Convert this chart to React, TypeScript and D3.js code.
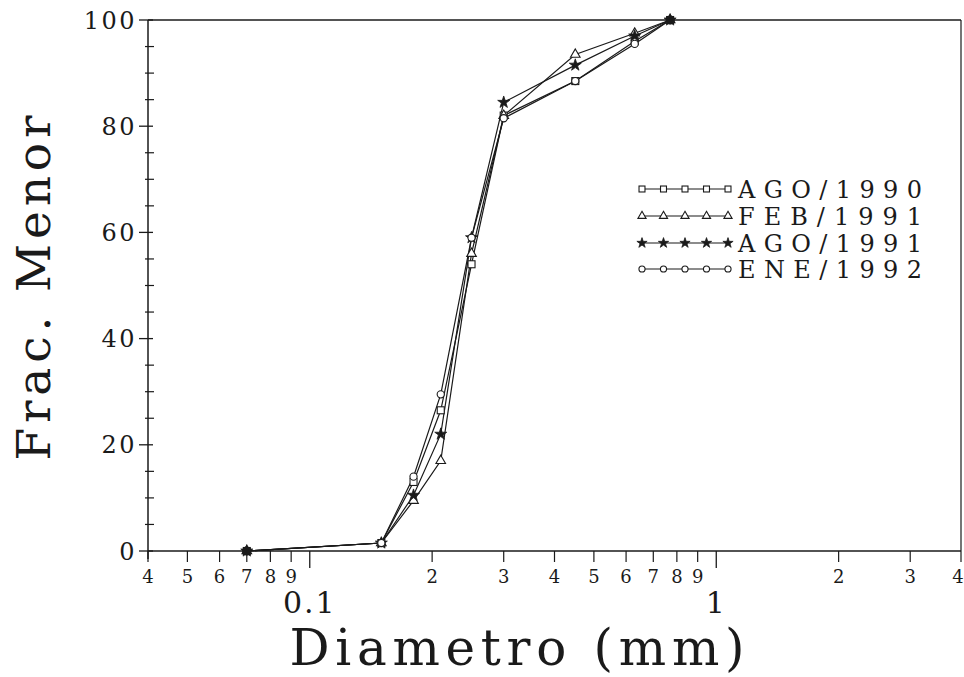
import React from "react";
import * as d3 from "d3";

const diameters = [0.07, 0.15, 0.18, 0.21, 0.25, 0.3, 0.45, 0.63, 0.77];
const ago1990 = [0, 1.5, 13, 26.5, 54, 82, 88.5, 96, 100];
const feb1991 = [0, 1.5, 9.5, 17, 56, 82, 93.5, 97.5, 100];
const ago1991 = [0, 1.5, 10.5, 22, 59, 84.5, 91.5, 97, 100];
const ene1992 = [0, 1.5, 14, 29.5, 59, 81.5, 88.5, 95.5, 100];
const seriesNames = ["AGO/1990", "FEB/1991", "AGO/1991", "ENE/1992"];
const seriesShapes = ["square", "triangle", "star", "circle"];
const yTicks = [0, 20, 40, 60, 80, 100];
const xMinorTicks = [0.04, 0.05, 0.06, 0.07, 0.08, 0.09, 0.2, 0.3, 0.4, 0.5, 0.6, 0.7, 0.8, 0.9, 2, 3, 4];
const xMinorLabels = ["4", "5", "6", "7", "8", "9", "2", "3", "4", "5", "6", "7", "8", "9", "2", "3", "4"];
const xMajorTicks = [0.1, 1];
const xMajorLabels = ["0.1", "1"];

const W = 964, H = 677;
const L = 148, R = 961, T = 20, B = 551;
const FONT = "'DejaVu Serif', 'Liberation Serif', serif";
const INK = "#1a1a1a";

function Marker({ shape, x, y, s = 1 }: { shape: string; x: number; y: number; s?: number }) {
  if (shape === "square") {
    return <rect x={x - 3.5 * s} y={y - 3.5 * s} width={7 * s} height={7 * s} fill="#fff" stroke={INK} strokeWidth={1.1} />;
  }
  if (shape === "circle") {
    return <circle cx={x} cy={y} r={3.6 * s} fill="#fff" stroke={INK} strokeWidth={1.1} />;
  }
  if (shape === "triangle") {
    const p = d3.symbol().type(d3.symbolTriangle).size(40 * s * s)();
    return <path d={p || ""} transform={`translate(${x},${y})`} fill="#fff" stroke={INK} strokeWidth={1.1} />;
  }
  const p = d3.symbol().type(d3.symbolStar).size(45 * s * s)();
  return <path d={p || ""} transform={`translate(${x},${y})`} fill={INK} stroke={INK} strokeWidth={0.8} />;
}

export default function App() {
  const x = d3.scaleLog().domain([0.04, 4]).range([L, R]);
  const y = d3.scaleLinear().domain([0, 100]).range([B, T]);
  const allSeries = [ago1990, feb1991, ago1991, ene1992];
  const line = d3
    .line<number>()
    .x((_, i) => x(diameters[i]))
    .y((v) => y(v));

  const yMinor = d3.range(0, 101, 5).filter((v) => v % 20 !== 0);
  const legendY = [189, 216, 243, 269];
  const legendX = [642, 663.5, 685, 706.5, 728];

  return (
    <svg width={W} height={H} style={{ position: "absolute", left: 0, top: 0, background: "#fff" }}>
      <rect x={0} y={0} width={W} height={H} fill="#fff" />
      {/* frame */}
      <line x1={L} y1={T} x2={R} y2={T} stroke={INK} strokeWidth={1.4} />
      <line x1={R} y1={T} x2={R} y2={B} stroke={INK} strokeWidth={1.2} />
      <line x1={L} y1={B} x2={R} y2={B} stroke={INK} strokeWidth={1.5} />
      <line x1={L} y1={T} x2={L} y2={B + 8} stroke={INK} strokeWidth={1.5} />

      {/* y ticks */}
      {yTicks.map((t) => (
        <g key={`yt${t}`}>
          <line x1={L - 9} x2={L + 5} y1={y(t)} y2={y(t)} stroke={INK} strokeWidth={1.3} />
          <text x={137} y={y(t) + 8.5} textAnchor="end" fontFamily={FONT} fontSize={24} letterSpacing={2.5} fill={INK}>
            {t}
          </text>
        </g>
      ))}
      {yMinor.map((t) => (
        <line key={`ym${t}`} x1={L - 3} x2={L + 6} y1={y(t)} y2={y(t)} stroke={INK} strokeWidth={1.2} />
      ))}

      {/* x ticks */}
      {xMinorTicks.map((t, i) => (
        <g key={`xm${i}`}>
          <line x1={x(t)} x2={x(t)} y1={B} y2={B + 11} stroke={INK} strokeWidth={1.2} />
          <text
            x={i === xMinorTicks.length - 1 ? x(t) - 3 : x(t)}
            y={583}
            textAnchor="middle"
            fontFamily={FONT}
            fontSize={18}
            fill={INK}
          >
            {xMinorLabels[i]}
          </text>
        </g>
      ))}
      {xMajorTicks.map((t, i) => (
        <g key={`xM${i}`}>
          <line x1={x(t)} x2={x(t)} y1={B} y2={B + 17} stroke={INK} strokeWidth={1.3} />
          <text x={x(t)} y={613} textAnchor="middle" fontFamily={FONT} fontSize={30} letterSpacing={2} fill={INK}>
            {xMajorLabels[i]}
          </text>
        </g>
      ))}

      {/* axis titles */}
      <text
        x={0}
        y={0}
        transform={`translate(50,${288}) rotate(-90)`}
        textAnchor="middle"
        fontFamily={FONT}
        fontSize={47}
        textLength={345}
        lengthAdjust="spacing"
        fill={INK}
      >
        Frac. Menor
      </text>
      <text x={517} y={665} textAnchor="middle" fontFamily={FONT} fontSize={50} textLength={455} lengthAdjust="spacing" fill={INK}>
        Diametro (mm)
      </text>

      {/* series */}
      {allSeries.map((s, si) => (
        <path key={`l${si}`} d={line(s) || ""} fill="none" stroke={INK} strokeWidth={1.2} />
      ))}
      {allSeries.map((s, si) =>
        s.map((v, i) => <Marker key={`m${si}-${i}`} shape={seriesShapes[si]} x={x(diameters[i])} y={y(v)} />)
      )}
      {/* overlapping end points appear solid */}
      <circle cx={x(diameters[0])} cy={y(0)} r={4.5} fill={INK} />
      <circle cx={x(diameters[diameters.length - 1])} cy={y(100)} r={4.5} fill={INK} />

      {/* legend */}
      {seriesNames.map((n, i) => (
        <g key={`lg${i}`}>
          <line x1={legendX[0]} x2={legendX[legendX.length - 1]} y1={legendY[i]} y2={legendY[i]} stroke={INK} strokeWidth={1.1} />
          {legendX.map((lx, j) => (
            <Marker key={`lgm${i}-${j}`} shape={seriesShapes[i]} x={lx} y={legendY[i]} s={0.85} />
          ))}
          <text x={738} y={legendY[i] + 9} fontFamily={FONT} fontSize={24} textLength={184} lengthAdjust="spacing" fill={INK}>
            {n}
          </text>
        </g>
      ))}
    </svg>
  );
}
